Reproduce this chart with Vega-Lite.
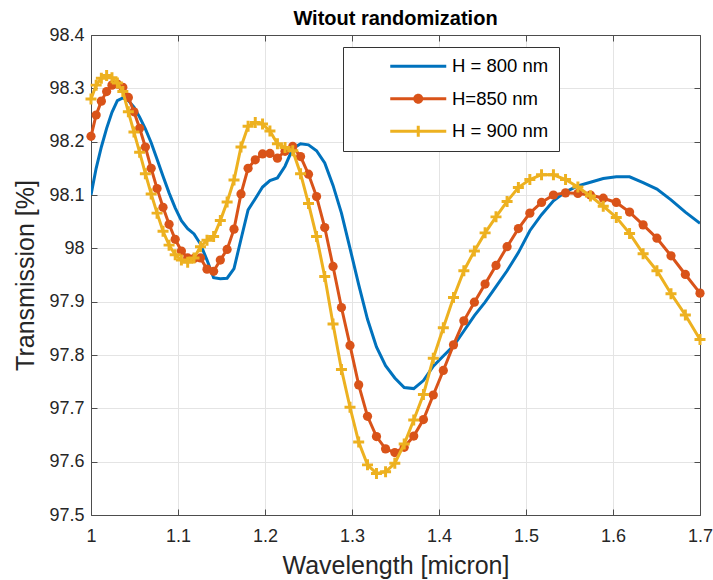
{
"$schema":"https://vega.github.io/schema/vega-lite/v6.json",
"width":609,"height":480,
"autosize":{"type":"none"},
"padding":{"left":91,"top":35,"right":13,"bottom":65},
"title":{"text":"Witout randomization","fontSize":20,"fontWeight":"bold","color":"black","font":"Liberation Sans","offset":-3,"frame":"group"},
"config":{
 "view":{"stroke":null},
 "axis":{"domainColor":"#4d4d4d","domainWidth":1,"tickColor":"#4d4d4d","tickWidth":1,"gridColor":"#e4e4e4","gridWidth":1,"labelColor":"#262626","labelFontSize":18,"labelFont":"Liberation Sans","titleFont":"Liberation Sans","titleFontSize":25,"titleFontWeight":"normal","titleColor":"#262626","labelFlush":false},
 "legend":{"labelFont":"Liberation Sans","labelFontSize":18.5,"labelColor":"black"}
},
"datasets":{
 "b":[{"x":1,"T":98.10},{"x":1.00592,"T":98.15},{"x":1.0119,"T":98.19},{"x":1.01796,"T":98.225},{"x":1.0241,"T":98.255},{"x":1.0303,"T":98.277},{"x":1.03659,"T":98.282},{"x":1.04294,"T":98.277},{"x":1.04938,"T":98.265},{"x":1.0559,"T":98.246},{"x":1.0625,"T":98.224},{"x":1.06918,"T":98.198},{"x":1.07595,"T":98.167},{"x":1.0828,"T":98.135},{"x":1.08974,"T":98.104},{"x":1.09677,"T":98.076},{"x":1.1039,"T":98.052},{"x":1.11111,"T":98.037},{"x":1.11842,"T":98.027},{"x":1.12583,"T":98.008},{"x":1.13333,"T":97.978},{"x":1.14094,"T":97.945},{"x":1.14865,"T":97.943},{"x":1.15646,"T":97.944},{"x":1.16438,"T":97.962},{"x":1.17241,"T":98.017},{"x":1.18056,"T":98.072},{"x":1.18881,"T":98.093},{"x":1.19718,"T":98.115},{"x":1.20567,"T":98.127},{"x":1.21429,"T":98.132},{"x":1.22302,"T":98.154},{"x":1.23188,"T":98.187},{"x":1.24088,"T":98.196},{"x":1.25,"T":98.194},{"x":1.25926,"T":98.183},{"x":1.26866,"T":98.16},{"x":1.2782,"T":98.118},{"x":1.28788,"T":98.066},{"x":1.29771,"T":98.0},{"x":1.30769,"T":97.932},{"x":1.31783,"T":97.867},{"x":1.32813,"T":97.815},{"x":1.33858,"T":97.78},{"x":1.34921,"T":97.757},{"x":1.36,"T":97.739},{"x":1.37097,"T":97.737},{"x":1.38211,"T":97.752},{"x":1.39344,"T":97.779},{"x":1.40496,"T":97.798},{"x":1.41667,"T":97.817},{"x":1.42857,"T":97.845},{"x":1.44068,"T":97.874},{"x":1.45299,"T":97.899},{"x":1.46552,"T":97.928},{"x":1.47826,"T":97.958},{"x":1.49123,"T":97.992},{"x":1.50442,"T":98.033},{"x":1.51786,"T":98.063},{"x":1.53153,"T":98.089},{"x":1.54545,"T":98.106},{"x":1.55963,"T":98.117},{"x":1.57407,"T":98.124},{"x":1.58879,"T":98.131},{"x":1.60377,"T":98.134},{"x":1.61905,"T":98.134},{"x":1.63462,"T":98.123},{"x":1.65049,"T":98.111},{"x":1.66667,"T":98.091},{"x":1.68317,"T":98.068},{"x":1.7,"T":98.047}],
 "r":[{"x":1,"T":98.21},{"x":1.00592,"T":98.25},{"x":1.0119,"T":98.276},{"x":1.01796,"T":98.294},{"x":1.0241,"T":98.306},{"x":1.0303,"T":98.308},{"x":1.03659,"T":98.302},{"x":1.04294,"T":98.283},{"x":1.04938,"T":98.256},{"x":1.0559,"T":98.225},{"x":1.0625,"T":98.19},{"x":1.06918,"T":98.15},{"x":1.07595,"T":98.112},{"x":1.0828,"T":98.077},{"x":1.08974,"T":98.045},{"x":1.09677,"T":98.017},{"x":1.1039,"T":97.995},{"x":1.11111,"T":97.982},{"x":1.11842,"T":97.981},{"x":1.12583,"T":97.982},{"x":1.13333,"T":97.961},{"x":1.14094,"T":97.957},{"x":1.14865,"T":97.978},{"x":1.15646,"T":97.998},{"x":1.16438,"T":98.036},{"x":1.17241,"T":98.102},{"x":1.18056,"T":98.15},{"x":1.18881,"T":98.166},{"x":1.19718,"T":98.177},{"x":1.20567,"T":98.178},{"x":1.21429,"T":98.169},{"x":1.22302,"T":98.182},{"x":1.23188,"T":98.191},{"x":1.24088,"T":98.172},{"x":1.25,"T":98.139},{"x":1.25926,"T":98.097},{"x":1.26866,"T":98.039},{"x":1.2782,"T":97.966},{"x":1.28788,"T":97.889},{"x":1.29771,"T":97.818},{"x":1.30769,"T":97.744},{"x":1.31783,"T":97.685},{"x":1.32813,"T":97.647},{"x":1.33858,"T":97.624},{"x":1.34921,"T":97.617},{"x":1.36,"T":97.627},{"x":1.37097,"T":97.648},{"x":1.38211,"T":97.679},{"x":1.39344,"T":97.725},{"x":1.40496,"T":97.771},{"x":1.41667,"T":97.819},{"x":1.42857,"T":97.864},{"x":1.44068,"T":97.899},{"x":1.45299,"T":97.933},{"x":1.46552,"T":97.968},{"x":1.47826,"T":98.003},{"x":1.49123,"T":98.037},{"x":1.50442,"T":98.066},{"x":1.51786,"T":98.086},{"x":1.53153,"T":98.1},{"x":1.54545,"T":98.104},{"x":1.55963,"T":98.103},{"x":1.57407,"T":98.1},{"x":1.58879,"T":98.094},{"x":1.60377,"T":98.086},{"x":1.61905,"T":98.068},{"x":1.63462,"T":98.044},{"x":1.65049,"T":98.019},{"x":1.66667,"T":97.986},{"x":1.68317,"T":97.951},{"x":1.7,"T":97.916}],
 "y":[{"x":1,"T":98.28},{"x":1.00592,"T":98.306},{"x":1.0119,"T":98.319},{"x":1.01796,"T":98.324},{"x":1.0241,"T":98.32},{"x":1.0303,"T":98.31},{"x":1.03659,"T":98.294},{"x":1.04294,"T":98.256},{"x":1.04938,"T":98.218},{"x":1.0559,"T":98.18},{"x":1.0625,"T":98.14},{"x":1.06918,"T":98.102},{"x":1.07595,"T":98.066},{"x":1.0828,"T":98.032},{"x":1.08974,"T":98.006},{"x":1.09677,"T":97.988},{"x":1.1039,"T":97.978},{"x":1.11111,"T":97.974},{"x":1.11842,"T":97.982},{"x":1.12583,"T":98.003},{"x":1.13333,"T":98.015},{"x":1.14094,"T":98.022},{"x":1.14865,"T":98.052},{"x":1.15646,"T":98.087},{"x":1.16438,"T":98.128},{"x":1.17241,"T":98.19},{"x":1.18056,"T":98.229},{"x":1.18881,"T":98.236},{"x":1.19718,"T":98.233},{"x":1.20567,"T":98.22},{"x":1.21429,"T":98.196},{"x":1.22302,"T":98.189},{"x":1.23188,"T":98.183},{"x":1.24088,"T":98.14},{"x":1.25,"T":98.084},{"x":1.25926,"T":98.022},{"x":1.26866,"T":97.947},{"x":1.2782,"T":97.858},{"x":1.28788,"T":97.773},{"x":1.29771,"T":97.702},{"x":1.30769,"T":97.637},{"x":1.31783,"T":97.594},{"x":1.32813,"T":97.578},{"x":1.33858,"T":97.581},{"x":1.34921,"T":97.597},{"x":1.36,"T":97.633},{"x":1.37097,"T":97.678},{"x":1.38211,"T":97.726},{"x":1.39344,"T":97.794},{"x":1.40496,"T":97.851},{"x":1.41667,"T":97.908},{"x":1.42857,"T":97.958},{"x":1.44068,"T":97.995},{"x":1.45299,"T":98.029},{"x":1.46552,"T":98.059},{"x":1.47826,"T":98.088},{"x":1.49123,"T":98.114},{"x":1.50442,"T":98.129},{"x":1.51786,"T":98.138},{"x":1.53153,"T":98.138},{"x":1.54545,"T":98.129},{"x":1.55963,"T":98.115},{"x":1.57407,"T":98.098},{"x":1.58879,"T":98.079},{"x":1.60377,"T":98.058},{"x":1.61905,"T":98.028},{"x":1.63462,"T":97.99},{"x":1.65049,"T":97.958},{"x":1.66667,"T":97.915},{"x":1.68317,"T":97.875},{"x":1.7,"T":97.829}],
 "leg":[{"s":"H = 800 nm"},{"s":"H=850 nm"},{"s":"H = 900 nm"}]
},
"resolve":{"axis":{"x":"independent","y":"independent"}},
"layer":[
 {"data":{"name":"b"},"mark":{"type":"line","color":"#0072BD","strokeWidth":3,"clip":true},
  "encoding":{
   "x":{"field":"x","type":"quantitative","scale":{"domain":[1,1.7],"nice":false,"zero":false},
        "axis":{"values":[1,1.1,1.2,1.3,1.4,1.5,1.6,1.7],"format":"~g","title":"Wavelength [micron]","tickSize":-6,"labelPadding":18,"titlePadding":8,"grid":true}},
   "y":{"field":"T","type":"quantitative","scale":{"domain":[97.5,98.4],"nice":false,"zero":false},
        "axis":{"values":[97.5,97.6,97.7,97.8,97.9,98,98.1,98.2,98.3,98.4],"format":"~g","title":"Transmission [%]","tickSize":-6,"labelPadding":13,"titlePadding":10,"grid":true}}}},
 {"data":{"name":"r"},"mark":{"type":"line","color":"#D95319","strokeWidth":3},
  "encoding":{"x":{"field":"x","type":"quantitative","axis":null},"y":{"field":"T","type":"quantitative","axis":null}}},
 {"data":{"name":"r"},"mark":{"type":"point","shape":"circle","filled":true,"opacity":1,"size":85,"color":"#D95319"},
  "encoding":{"x":{"field":"x","type":"quantitative","axis":null},"y":{"field":"T","type":"quantitative","axis":null}}},
 {"data":{"name":"y"},"mark":{"type":"line","color":"#EDB120","strokeWidth":3},
  "encoding":{"x":{"field":"x","type":"quantitative","axis":null},"y":{"field":"T","type":"quantitative","axis":null}}},
 {"data":{"name":"y"},"mark":{"type":"point","shape":"M-1,-0.27H1V0.27H-1Z M-0.27,-1H0.27V1H-0.27Z","filled":true,"opacity":1,"size":121,"color":"#EDB120"},
  "encoding":{"x":{"field":"x","type":"quantitative","axis":null},"y":{"field":"T","type":"quantitative","axis":null}}},
 {"data":{"name":"b"},"mark":{"type":"point","opacity":0},
  "encoding":{
   "x":{"field":"x","type":"quantitative","axis":{"orient":"top","labels":false,"title":null,"grid":false,"tickSize":-6,"values":[1,1.1,1.2,1.3,1.4,1.5,1.6,1.7]}},
   "y":{"field":"T","type":"quantitative","axis":{"orient":"right","labels":false,"title":null,"grid":false,"tickSize":-6,"values":[97.5,97.6,97.7,97.8,97.9,98,98.1,98.2,98.3,98.4]}}}},
 {"data":{"name":"leg"},"transform":[{"filter":"false"}],"mark":{"type":"point","filled":true,"opacity":1},
  "encoding":{
   "color":{"field":"s","type":"nominal","scale":{"domain":["H = 800 nm","H=850 nm","H = 900 nm"],"range":["#0072BD","#D95319","#EDB120"]},
     "legend":{"title":null,"orient":"none","legendX":252,"legendY":12,"fillColor":"white","strokeColor":"#333333","padding":10,"symbolSize":100,"symbolStrokeWidth":0,"symbolOffset":56,"labelOffset":24.5,"rowPadding":13.5,"labelFontSize":18.5}},
   "shape":{"field":"s","type":"nominal","scale":{"domain":["H = 800 nm","H=850 nm","H = 900 nm"],"range":["M-5.6,-0.3H5.6V0.3H-5.6Z","M-5.6,-0.3H5.6V0.3H-5.6Z M1,0A1,1 0 1,1 -1,0A1,1 0 1,1 1,0Z","M-5.6,-0.3H5.6V0.3H-5.6Z M-1.1,-0.3H1.1V0.3H-1.1Z M-0.3,-1.1H0.3V1.1H-0.3Z"]},
     "legend":{"title":null,"orient":"none","legendX":252,"legendY":12,"fillColor":"white","strokeColor":"#333333","padding":10,"symbolSize":100,"symbolStrokeWidth":0,"symbolOffset":56,"labelOffset":24.5,"rowPadding":13.5,"labelFontSize":18.5}}}}
]
}
